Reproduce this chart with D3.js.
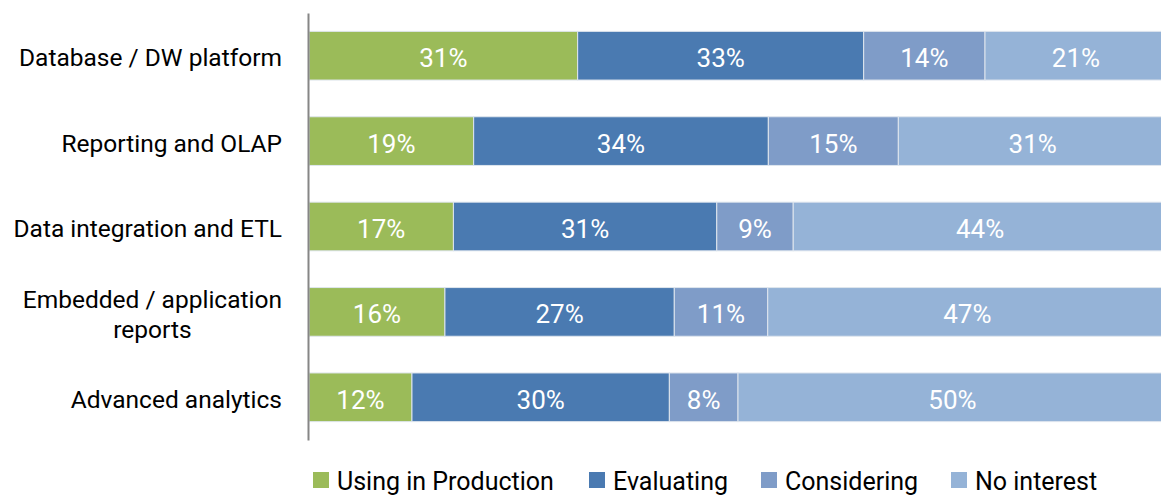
<!DOCTYPE html>
<html><head><meta charset="utf-8">
<script src="https://cdn.jsdelivr.net/npm/d3@7"></script>
<style>body{margin:0;background:#fff;overflow:hidden}svg{display:block}</style>
</head><body><svg id="c" width="1161" height="496"></svg>
<script>
const categories = ["Database / DW platform","Reporting and OLAP","Data integration and ETL","Embedded / application\nreports","Advanced analytics"];
const seriesNames = ["Using in Production","Evaluating","Considering","No interest"];
const usingInProduction = [31,19,17,16,12];
const evaluating = [33,34,31,27,30];
const considering = [14,15,9,11,8];
const noInterest = [21,31,44,47,50];
const colors = ["#9BBB59","#4A7AB1","#7F9CC8","#95B3D7"];

(function(){
const series = [usingInProduction, evaluating, considering, noInterest];
const rows = categories.map((c,i)=>{
  const r = {cat:c};
  seriesNames.forEach((s,j)=>r[s]=series[j][i]);
  return r;
});
const font = "Roboto, 'Open Sans', sans-serif";
const fs = 26;
const catFs = 24.5;
const svg = d3.select("#c");
const mLeft = 308, mRight = 1167, mTop = 13, mBottom = 440;
const x = d3.scaleLinear().domain([0,1]).range([mLeft+1,mRight]);
const y = d3.scaleBand().domain(categories).range([mTop,mBottom]).paddingInner(0.43).paddingOuter(0.215);

const stack = d3.stack().keys(seriesNames).offset(d3.stackOffsetExpand);
const stacked = stack(rows);

const g = svg.append("g");
stacked.forEach((layer,j)=>{
  const lg = g.append("g");
  lg.selectAll("rect").data(layer).join("rect")
    .attr("x",d=>x(d[0])).attr("width",d=>x(d[1])-x(d[0]))
    .attr("y",d=>y(d.data.cat)).attr("height",y.bandwidth())
    .attr("fill",colors[j]).attr("stroke","#dfe6ee").attr("stroke-width",1);
  lg.selectAll("text").data(layer).join("text")
    .attr("x",d=>(x(d[0])+x(d[1]))/2).attr("y",d=>y(d.data.cat)+y.bandwidth()/2)
    .attr("dy","0.44em").attr("text-anchor","middle")
    .attr("fill","#fff").attr("font-family",font).attr("font-size",fs)
    .text(d=>d.data[seriesNames[j]]+"%");
});

const yAxis = d3.axisLeft(y).tickSize(0).tickFormat("");
const ag = svg.append("g").attr("transform",`translate(${mLeft},0)`).call(yAxis);
ag.select(".domain").attr("stroke","#868686").attr("stroke-width",2);

categories.forEach(c=>{
  const lines = c.split("\n");
  const cy = y(c)+y.bandwidth()/2;
  const t = svg.append("text").attr("font-family",font).attr("font-size",catFs).attr("fill","#000");
  const lh = 30;
  const y0 = cy - (lines.length-1)*lh/2;
  lines.forEach((l,k)=>t.append("tspan").attr("x",0).attr("y",y0+k*lh).attr("dy","0.44em").text(l));
  if(lines.length===1){
    t.attr("text-anchor","end").selectAll("tspan").attr("x",282);
  } else {
    const w = d3.max(t.selectAll("tspan").nodes(), n=>n.getComputedTextLength());
    t.attr("text-anchor","middle").selectAll("tspan").attr("x",282-w/2);
  }
});

const legX = [313,589,761,951];
seriesNames.forEach((s,j)=>{
  const lg = svg.append("g").attr("transform",`translate(${legX[j]},472)`);
  lg.append("rect").attr("width",16).attr("height",16).attr("fill",colors[j]);
  lg.append("text").attr("x",24).attr("y",8).attr("dy","0.40em")
    .attr("font-family",font).attr("font-size",fs-1).attr("fill","#000").text(s);
});
})();
</script></body></html>
